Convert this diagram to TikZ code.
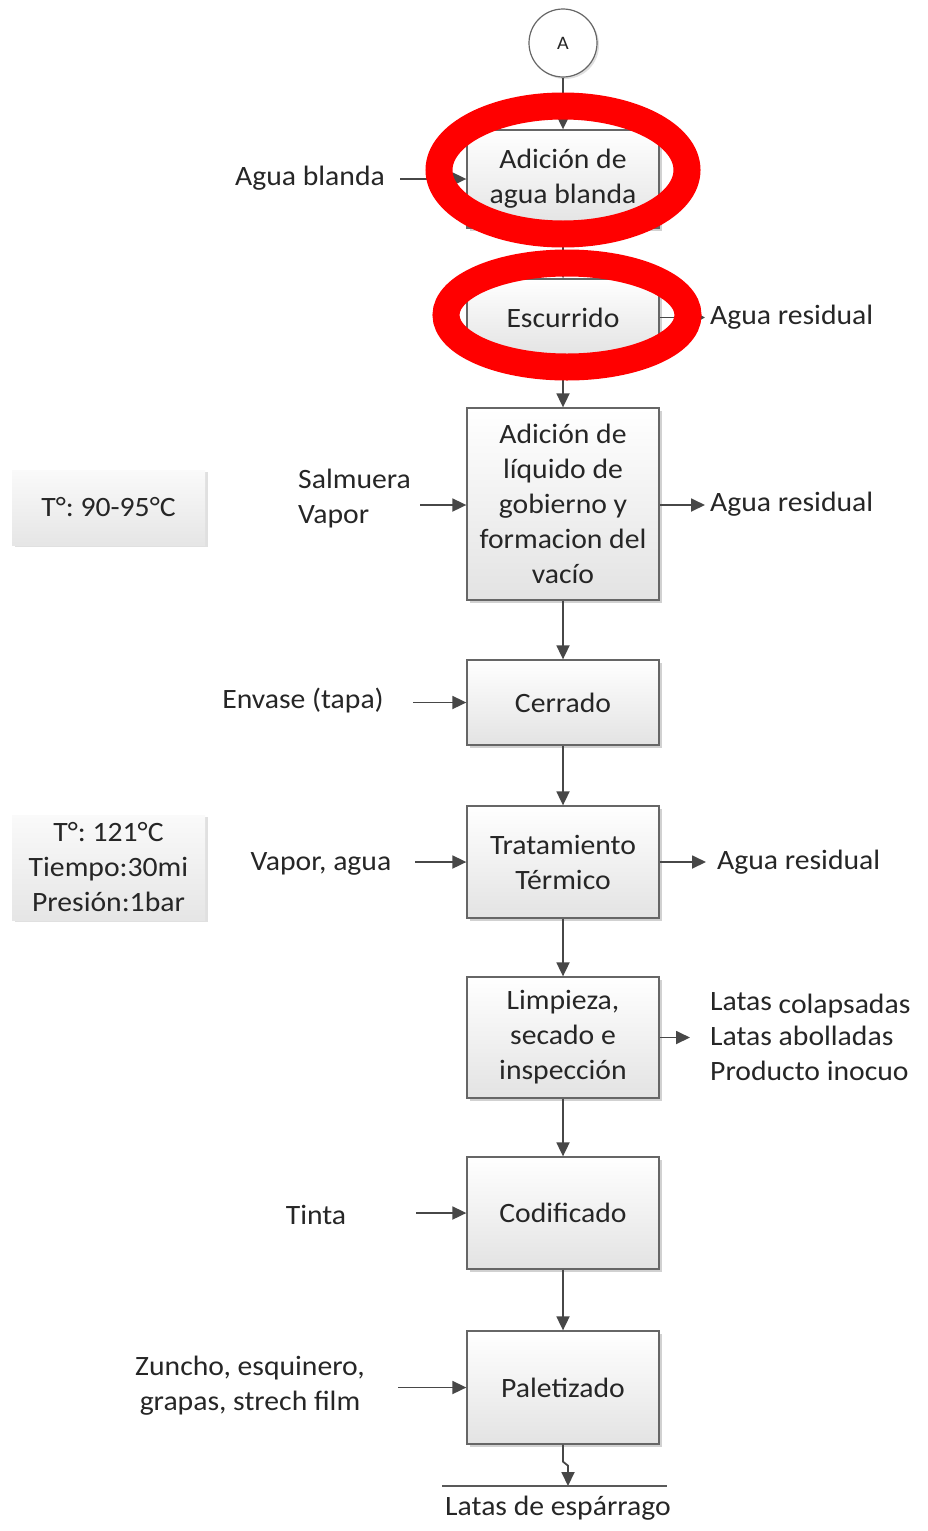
\documentclass[tikz,border=0pt]{standalone}
\usepackage{fontspec}
\setmainfont[FakeStretch=1.06]{Carlito}
\usetikzlibrary{arrows.meta,shadows}
\frenchspacing
\begin{document}
\begin{tikzpicture}[x=1pt,y=-1pt,
  txt/.style={font=\fontsize{28}{35}\selectfont, text=black!85, inner sep=0pt},
  proc/.style={txt, draw=black!60, line width=1.3pt, top color=white, bottom color=black!11,
     minimum width=192pt, align=center,
     drop shadow={shadow xshift=3pt, shadow yshift=-3pt, fill=black!30, opacity=0.6}},
  note/.style={txt, top color=black!2, bottom color=black!10, minimum width=193pt, align=center,
     drop shadow={shadow xshift=3pt, shadow yshift=-2pt, fill=black!20, opacity=0.6}},
  arr/.style={draw=black!72, line width=1.8pt, -{Triangle[length=14pt,width=13pt]}},
  redring/.style={draw=red, line width=27pt}
]
\useasboundingbox (0,0) rectangle (928,1531);

% connector A
\node[draw=black!60, line width=1.2pt, circle, minimum size=68pt, fill=white,
  drop shadow={shadow xshift=2pt, shadow yshift=-2pt, fill=black!25, opacity=0.5},
  font=\fontsize{19}{20}\selectfont, text=black!85] (A) at (563,43) {A};

% process boxes
\node[proc, minimum height=98pt]  (b1) at (563,179)   {Adición de\\agua blanda};
\node[proc, minimum height=77pt]  (b2) at (563,317.5) {Escurrido};
\node[proc, minimum height=192pt] (b3) at (563,504)   {Adición de\\líquido de\\gobierno y\\formacion del\\vacío};
\node[proc, minimum height=85pt]  (b4) at (563,702.5) {Cerrado};
\node[proc, minimum height=112pt] (b5) at (563,862)   {Tratamiento\\Térmico};
\node[proc, minimum height=121pt] (b6) at (563,1037.5){Limpieza,\\secado e\\inspección};
\node[proc, minimum height=112pt] (b7) at (563,1213)  {Codificado};
\node[proc, minimum height=113pt] (b8) at (563,1387.5){Paletizado};

% main flow
\draw[arr] (A) -- (b1);
\draw[arr] (b1) -- (b2);
\draw[arr] (b2) -- (b3);
\draw[arr] (b3) -- (b4);
\draw[arr] (b4) -- (b5);
\draw[arr] (b5) -- (b6);
\draw[arr] (b6) -- (b7);
\draw[arr] (b7) -- (b8);

% final product
\coordinate (oL) at (442,1486);
\coordinate (oR) at (667,1486);
\coordinate (out) at (568,1486);
\draw[arr] (b8.south) -- ++(0,17) -- ++(5,4) -- (out);
\draw[draw=black!65, line width=1.5pt] (oL) -- (oR);
\node[txt] (prod) at (558,1508) {Latas de espárrago};

% notes
\node[note, minimum height=75pt]  (n1) at (108.5,507.5) {T°: 90-95°C};
\node[note, minimum height=105pt] (n2) at (108.5,867.5) {T°: 121°C\\Tiempo:30mi\\Presión:1bar};

% inputs
\node[txt] (i1) at (310,178) {Agua blanda};
\coordinate (i1s) at (400,179);
\draw[arr] (i1s) -- (b1.west);

\node[txt, align=left, anchor=west] (i3) at (298,499) {Salmuera\\Vapor};
\coordinate (i3s) at (420,505);
\draw[arr] (i3s) -- (i3s -| b3.west);

\node[txt] (i4) at (303,701) {Envase (tapa)};
\coordinate (i4s) at (413,702.5);
\draw[arr] (i4s) -- (b4.west);

\node[txt] (i5) at (321,864) {Vapor, agua};
\coordinate (i5s) at (415,862);
\draw[arr] (i5s) -- (b5.west);

\node[txt] (i7) at (316,1215) {Tinta};
\coordinate (i7s) at (416,1213);
\draw[arr] (i7s) -- (b7.west);

\node[txt, align=center] (i8) at (250,1386) {Zuncho, esquinero,\\grapas, strech film};
\coordinate (i8s) at (398,1387.5);
\draw[arr] (i8s) -- (b8.west);

% outputs
\node[txt, anchor=west] (o2) at (710,317) {Agua residual};
\coordinate (o2e) at (705,317.5);
\draw[draw=black!72, line width=1.8pt, -{Triangle[length=4pt,width=4pt]}] (b2.east) -- (o2e);

\node[txt, anchor=west] (o3) at (710,504) {Agua residual};
\coordinate (o3s) at (660,505);
\coordinate (o3e) at (705,505);
\draw[arr] (o3s) -- (o3e);

\node[txt, anchor=west] (o5) at (717,862) {Agua residual};
\coordinate (o5e) at (706,862);
\draw[arr] (b5.east) -- (o5e);

\node[txt, anchor=west, align=left] (o6) at (710,1037) {Latas \raisebox{-3pt}{colapsadas}\\Latas abolladas\\Producto inocuo};
\coordinate (o6e) at (690,1037.5);
\draw[arr] (b6.east) -- (o6e);

% red highlight rings
\draw[redring] (563,170) ellipse [x radius=124pt, y radius=64pt];
\draw[redring] (567,315) ellipse [x radius=121pt, y radius=52pt];
\end{tikzpicture}
\end{document}
